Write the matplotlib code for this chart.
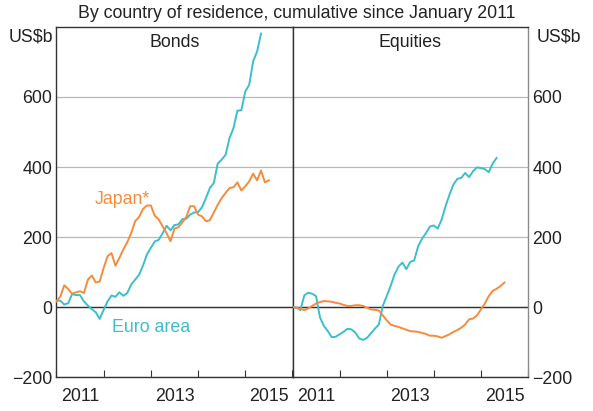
import numpy as np
import matplotlib
matplotlib.use('Agg')
from matplotlib import pyplot as plt
from matplotlib.ticker import FixedLocator, NullFormatter

# monthly values from January 2011, US$b
bonds_euro = [18, 18, 7, 11, 37, 34, 34, 16, 4, -6, -15, -34, -8, 16, 33, 29, 42, 32,
              40, 64, 78, 92, 118, 150, 169, 187, 192, 211, 232, 219, 234, 236, 251,
              252, 264, 270, 271, 285, 311, 340, 354, 410, 421, 435, 483, 511, 561,
              562, 616, 635, 702, 730, 781]
bonds_japan = [16, 30, 62, 51, 38, 42, 45, 40, 78, 90, 70, 73, 111, 145, 154, 118, 140,
               164, 185, 211, 245, 257, 280, 290, 290, 261, 250, 230, 211, 188, 224,
               228, 242, 257, 288, 288, 264, 259, 245, 248, 270, 292, 311, 326, 340,
               342, 356, 333, 345, 359, 381, 362, 390, 356, 362]
eq_euro = [0, -2, -9, 33, 41, 38, 31, -30, -54, -69, -86, -85, -78, -71, -62, -64, -73,
           -90, -94, -88, -75, -62, -50, 3, 31, 60, 93, 115, 127, 108, 129, 133, 173,
           195, 211, 230, 233, 224, 250, 288, 321, 350, 366, 369, 383, 371, 388, 399,
           397, 394, 385, 410, 426]
eq_japan = [0, -2, -5, -9, -4, 3, 10, 14, 17, 16, 15, 12, 10, 6, 3, 3, 5, 5, 3, -2, -7,
            -8, -10, -24, -38, -50, -54, -57, -61, -65, -69, -70, -71, -74, -77, -82,
            -82, -84, -88, -83, -78, -71, -66, -59, -50, -35, -33, -24, -7, 10, 31, 46,
            52, 60, 70]

year_labels = ['2011', '', '2013', '', '2015']
y_ticks = [-200, 0, 200, 400, 600]

teal = '#3bbfca'
orange = '#f68b3c'
text_col = '#222222'
fs = 12.8


def months(series):
    return 2011 + np.arange(len(series)) / 12.0


fig = plt.figure(figsize=(5.93, 4.11), dpi=100)
plt.rcParams['font.family'] = ['Liberation Sans', 'DejaVu Sans']

left = 56.4 / 593
mid = 292.5 / 593
right = 528 / 593
bottom = 1 - 377 / 411
top = 1 - 27 / 411

ax1 = fig.add_axes([left, bottom, mid - left, top - bottom])
ax2 = fig.add_axes([mid, bottom, right - mid, top - bottom])

for ax in (ax1, ax2):
    ax.set_xlim(2011, 2016)
    ax.set_ylim(-200, 800)
    ax.set_yticks(y_ticks)
    ax.grid(axis='y', color='#b8b8b8', linewidth=0.9)
    ax.axhline(0, color='#333333', linewidth=1.0, zorder=2)
    ax.xaxis.set_major_locator(FixedLocator(np.arange(2011, 2017)))
    ax.xaxis.set_major_formatter(NullFormatter())
    ax.xaxis.set_minor_locator(FixedLocator(np.arange(2011, 2016) + 0.5))
    ax.set_xticklabels(year_labels, minor=True)
    ax.tick_params(axis='x', which='major', direction='in', length=5, color='#333333')
    ax.tick_params(axis='x', which='minor', length=0, pad=8, labelsize=fs, labelcolor=text_col)
    ax.tick_params(axis='y', length=0, labelsize=fs, labelcolor=text_col, pad=3)
    for s in ax.spines.values():
        s.set_color('#333333')
        s.set_linewidth(1.0)

ax2.yaxis.tick_right()
ax2.spines['right'].set_color('#8a8a8a')

# Bonds
ax1.plot(months(bonds_euro), bonds_euro, color=teal, lw=1.4, zorder=3)
ax1.plot(months(bonds_japan), bonds_japan, color=orange, lw=1.4, zorder=3)
ax1.text(2013.5, 755, 'Bonds', ha='center', va='center', fontsize=fs, color=text_col)
ax1.text(2012.4, 306, 'Japan*', ha='center', va='center', fontsize=fs, color=orange)
ax1.text(2013.0, -60, 'Euro area', ha='center', va='center', fontsize=fs, color=teal)

# Equities
ax2.plot(months(eq_euro), eq_euro, color=teal, lw=1.4, zorder=3)
ax2.plot(months(eq_japan), eq_japan, color=orange, lw=1.4, zorder=3)
ax2.text(2013.5, 755, 'Equities', ha='center', va='center', fontsize=fs, color=text_col)

fig.text(31 / 593, 1 - 37 / 411, 'US$b', ha='center', va='center', fontsize=fs, color=text_col)
fig.text(559 / 593, 1 - 37 / 411, 'US$b', ha='center', va='center', fontsize=fs, color=text_col)
fig.text(0.5, 1 - 13 / 411, 'By country of residence, cumulative since January 2011',
         ha='center', va='center', fontsize=fs, color=text_col)

fig.savefig('out.png', dpi=100)
